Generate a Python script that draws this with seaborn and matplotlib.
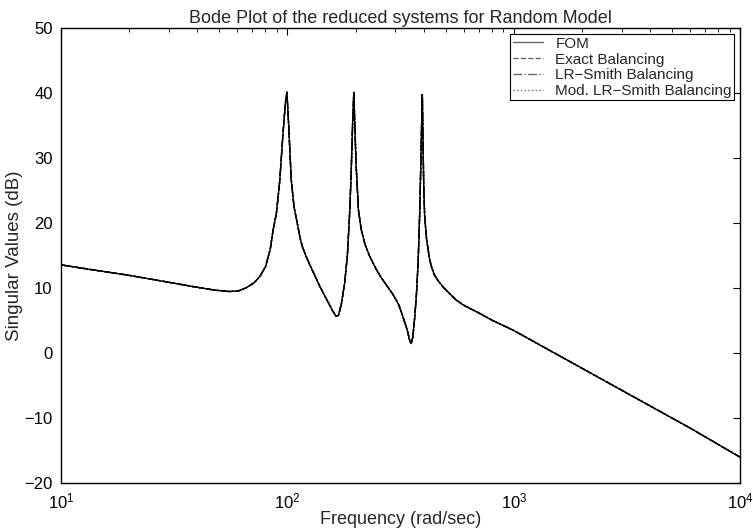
import numpy as np
import pandas as pd
import seaborn as sns
import matplotlib
matplotlib.use("Agg")
import matplotlib.pyplot as plt
from matplotlib.ticker import LogLocator, NullFormatter

# Data
# -----------------------------------------------------------------------
freq = [10, 14, 19.5, 28, 38.4, 48, 55.6, 61, 66, 71, 75.5, 80, 84, 86.5,
        89.4, 92.5, 95.7, 98, 99.5, 101, 104, 107, 110, 114, 117, 121, 126,
        132, 139, 150, 158, 164, 168, 173, 179, 184, 188, 191, 194, 196.5,
        199, 201, 206, 212, 220, 231, 247, 260, 275, 292, 310, 324, 338, 348,
        353, 358, 365, 371, 378, 384, 389, 392, 394.5, 397, 400, 404, 412,
        424, 432, 445, 462, 490, 520, 556, 600, 705, 800, 1000, 1500, 3000,
        6000, 10000]

fom_db = [13.6, 12.8, 12.05, 11.1, 10.25, 9.7, 9.5, 9.6, 10.1, 10.8, 11.8,
          13.3, 16.0, 19.0, 21.5, 26.5, 34.0, 38.5, 40.2, 36.0, 26.7, 22.5,
          20.4, 17.6, 16.2, 14.9, 13.5, 12.0, 10.3, 8.1, 6.6, 5.7, 5.8, 7.5,
          10.8, 15.0, 21.0, 27.0, 35.0, 40.2, 34.0, 29.2, 22.0, 19.0, 16.8,
          14.9, 12.9, 11.6, 10.4, 9.1, 7.5, 5.6, 3.6, 1.8, 1.5, 2.5, 5.5, 8.7,
          14.0, 21.5, 30.0, 36.0, 39.8, 33.0, 26.0, 21.0, 17.5, 14.6, 13.4,
          12.1, 11.2, 10.1, 9.2, 8.2, 7.4, 6.15, 5.1, 3.5, 0.1, -5.7, -11.5,
          -16.0]

# the reduced models lie on top of the full order model at this scale
exact_db = list(fom_db)
lr_smith_db = list(fom_db)
mod_lr_smith_db = list(fom_db)

labels = ["FOM", "Exact Balancing", "LR\u2212Smith Balancing",
          "Mod. LR\u2212Smith Balancing"]

# Plot
# -----------------------------------------------------------------------
sns.set_style("white")
plt.rcParams['font.family'] = ['Liberation Sans', 'DejaVu Sans']
plt.rcParams['mathtext.fontset'] = 'custom'
plt.rcParams['mathtext.rm'] = 'Liberation Sans'

fig = plt.figure(figsize=(7.53, 5.29), dpi=100)
ax = fig.add_axes([0.081, 0.0865, 0.902, 0.86])

series = [fom_db, exact_db, lr_smith_db, mod_lr_smith_db]
styles = ["-", "--", "-.", ":"]
for vals, ls, lab in zip(series, styles, labels):
    sns.lineplot(x=freq, y=vals, ax=ax, color="black", linestyle=ls,
                 linewidth=1.0, label=lab, sort=False)

ax.set_xscale("log")
ax.set_xlim(10, 1e4)
ax.set_ylim(-20, 50)
ax.set_yticks(np.arange(-20, 51, 10))
ax.xaxis.set_major_locator(LogLocator(base=10, numticks=10))
ax.xaxis.set_minor_locator(LogLocator(base=10, subs=np.arange(2, 10), numticks=10))
ax.xaxis.set_minor_formatter(NullFormatter())

ax.tick_params(which="both", direction="in", top=True, right=True,
               labelsize=12, colors="black", pad=6)
ax.tick_params(which="major", length=5, width=0.8)
ax.tick_params(which="minor", length=3, width=0.6)
for sp in ax.spines.values():
    sp.set_color("black")
    sp.set_linewidth(1.0)

ax.set_title("Bode Plot of the reduced systems for Random Model", fontsize=13, pad=4)
ax.set_xlabel("Frequency (rad/sec)", fontsize=13, labelpad=0)
ax.set_ylabel("Singular Values (dB)", fontsize=13.5, labelpad=1)

leg = ax.legend(loc="upper right", fontsize=11, frameon=True, fancybox=False,
                edgecolor="black", framealpha=1, borderaxespad=0.4,
                handlelength=2.0, borderpad=0.15, labelspacing=0.12,
                handletextpad=0.8)
leg.get_frame().set_linewidth(0.8)
for line in leg.get_lines():
    line.set_color("0.4")

fig.savefig("out.png", dpi=100)
